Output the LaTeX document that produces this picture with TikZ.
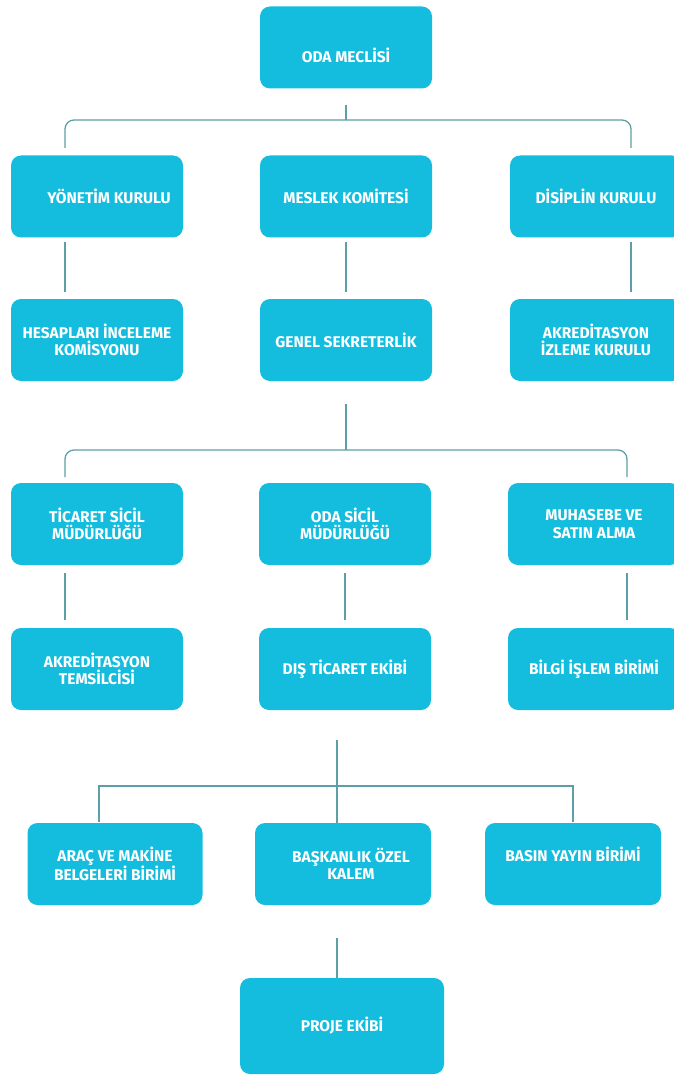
\documentclass[tikz,border=0pt]{standalone}
\usepackage{fontspec}
\setmainfont{Fira Sans}
\definecolor{boxcyan}{HTML}{14BDDE}
\definecolor{linkteal}{HTML}{5C9FA6}

\begin{document}
\begin{tikzpicture}[x=1pt,y=1pt]
      \tikzstyle{unit}=[fill=boxcyan, rounded corners=10pt, minimum width=172pt, minimum height=82pt, inner sep=0pt, align=center, text=white, font=\bfseries\fontsize{15.5}{17.5}\selectfont]
      \tikzstyle{link}=[linkteal, line width=1.3pt]
      \useasboundingbox (0,0) rectangle (673,-1075);
      \node [unit] (oda) at (346,-47.5) {\raisebox{-8pt}[\height][\depth]{ODA MECLİSİ}};
      \node [unit] (yon) at (97,-196.5) {\hspace*{24pt}YÖNETİM KURULU};
      \node [unit] (mes) at (346,-196.5) {MESLEK KOMİTESİ};
      \node [unit] (dis) at (596,-196.5) {DİSİPLİN KURULU};
      \node [unit] (hes) at (97,-340) {HESAPLARI İNCELEME\\KOMİSYONU};
      \node [unit] (gen) at (346,-340) {GENEL SEKRETERLİK};
      \node [unit] (akr) at (596,-340) {AKREDİTASYON\\İZLEME KURULU};
      \node [unit] (tic) at (97,-524) {TİCARET SİCİL\\MÜDÜRLÜĞÜ};
      \node [unit] (osc) at (345,-524) {ODA SİCİL\\MÜDÜRLÜĞÜ};
      \node [unit] (muh) at (594,-524) {MUHASEBE VE\\SATIN ALMA};
      \node [unit] (tem) at (97,-669) {AKREDİTASYON\\TEMSİLCİSİ};
      \node [unit] (dte) at (345,-669) {DIŞ TİCARET EKİBİ};
      \node [unit] (bil) at (594,-669) {BİLGİ İŞLEM BİRİMİ};
      \node [unit, minimum width=175pt] (arac) at (115,-864) {ARAÇ VE MAKİNE\\BELGELERİ BİRİMİ};
      \node [unit, minimum width=176pt] (bsk) at (343,-864) {\hspace*{16pt}BAŞKANLIK ÖZEL\\\hspace*{16pt}KALEM};
      \node [unit, minimum width=176pt] (bsn) at (573,-864) {\raisebox{10pt}[\height][\depth]{BASIN YAYIN BİRİMİ}};
      \node [unit, minimum width=204pt, minimum height=96pt] (prj) at (342,-1026) {PROJE EKİBİ};
      \coordinate (j1) at (346,-120);
      \coordinate (b1l) at (65,-148);
      \coordinate (b1r) at (631,-148);
      \coordinate (j2) at (346,-450);
      \coordinate (b2l) at (65,-477);
      \coordinate (b2r) at (627,-477);
      \coordinate (j3) at (337,-786);
      \coordinate (b3l) at (99,-822);
      \coordinate (b3r) at (573,-822);
      \draw [link, shorten <=16pt] (oda) -- (j1);
      \draw [link, rounded corners=9pt] (b1l) |- (j1) -| (b1r);
      \draw [link, shorten <=4pt, shorten >=7pt] (yon.south -| b1l) -- (hes.north -| b1l);
      \draw [link, shorten <=4pt, shorten >=7pt] (mes) -- (gen);
      \draw [link, shorten <=4pt, shorten >=7pt] (dis.south -| b1r) -- (akr.north -| b1r);
      \draw [link, shorten <=23pt] (gen) -- (j2);
      \draw [link, rounded corners=9pt] (b2l) |- (j2) -| (b2r);
      \draw [link, shorten <=8pt, shorten >=8pt] (tic.south -| b2l) -- (tem.north -| b2l);
      \draw [link, shorten <=8pt, shorten >=8pt] (osc) -- (dte);
      \draw [link, shorten <=8pt, shorten >=8pt] (muh.south -| b2r) -- (bil.north -| b2r);
      \draw [link, shorten <=30pt] (dte.south -| j3) -- (bsk.north -| j3);
      \draw [link] (b3l) |- (j3) -| (b3r);
      \draw [link, shorten <=33pt] (bsk.south -| j3) -- (prj.north -| j3);
\end{tikzpicture}
\end{document}
